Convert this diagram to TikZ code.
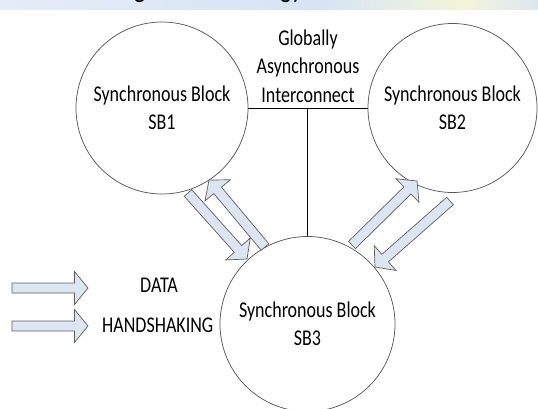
\documentclass[tikz,border=0pt]{standalone}
\usepackage{fontspec}
\setmainfont{Carlito}[FakeStretch=0.8]
\usetikzlibrary{calc}

\definecolor{ringgray}{HTML}{5A5A5A}
\definecolor{arrowfill}{HTML}{DCE6F2}
\definecolor{arrowline}{HTML}{5F5F5F}
\definecolor{bandA}{HTML}{E4ECF7}
\definecolor{bandB}{HTML}{D7E4F6}
\definecolor{bandC}{HTML}{F3F5D9}
\definecolor{bandD}{HTML}{DCE6F4}

\pgfdeclarehorizontalshading{titleband}{100bp}{%
  color(0bp)=(bandA); color(25bp)=(bandA); color(55bp)=(bandB);
  color(68bp)=(bandC); color(75bp)=(bandD); color(100bp)=(bandD)}

\def\shaftw{5pt}
\def\headw{16.5pt}
\def\headlen{13.5pt}

% outlined block arrow from coordinate #1 to coordinate #2; #3 names its helper point
\newcommand\blockarrow[3]{%
  \coordinate (#3-hb) at ($(#2)!\headlen!(#1)$);
  \draw[blockarrow]
    ($(#1)!\shaftw!90:(#2)$) -- ($(#3-hb)!\shaftw!90:(#2)$)
    -- ($(#3-hb)!\headw!90:(#2)$) -- (#2)
    -- ($(#3-hb)!\headw!-90:(#2)$) -- ($(#3-hb)!\shaftw!-90:(#2)$)
    -- ($(#1)!\shaftw!-90:(#2)$) -- cycle;
}

\tikzset{
  blocktext/.style={font=\fontsize{22.5}{28.5}\selectfont, text=black, align=center},
  sblock/.style={circle, draw=ringgray, line width=0.75pt, inner sep=0pt,
                 minimum size=#1, blocktext},
  blockarrow/.style={fill=arrowfill, draw=arrowline, line width=0.7pt, line join=miter},
  wire/.style={draw=black, line width=0.9pt},
  legendtext/.style={font=\fontsize{22.5}{28.5}\selectfont, text=black, anchor=base west, inner sep=0pt},
  titletext/.style={font=\fontsize{30}{36}\selectfont, text=black, anchor=base west, inner sep=0pt}
}

\begin{document}
\begin{tikzpicture}[x=1pt, y=-1pt]
  \useasboundingbox (0,0) rectangle (538,408);
  \fill[white] (0,0) rectangle (538,408);

  % slide title band along the top edge, title running off above
  \begin{scope}
    \clip (0,0) rectangle (538,9);
    \shade[shading=titleband] (0,0) rectangle (538,9);
    \node[titletext] (tg1) at (134,-3) {g};
    \node[titletext] (tg2) at (280,-3) {gy};
  \end{scope}

  % synchronous blocks
  \node[sblock=172pt] (sb1) at (162,108) {Synchronous Block\\SB1};
  \node[sblock=169pt] (sb2) at (452.5,108) {Synchronous Block\\SB2};
  \node[sblock=175pt] (sb3) at (307.5,324) {Synchronous Block\\SB3};

  % globally asynchronous interconnect
  \node[blocktext, inner sep=0pt] (gai) at (308,66) {Globally\\Asynchronous\\Interconnect};
  \draw[wire] (sb1.east) -- (sb2.west);
  \coordinate (tap) at (sb3.north |- sb1.east);
  \draw[wire] (tap) -- (sb3.north);

  % data and handshaking arrows between the blocks
  \coordinate (a1s) at (188,193);  \coordinate (a1e) at (247,259);
  \coordinate (a2s) at (265,247);  \coordinate (a2e) at (209,180);
  \coordinate (a3s) at (352,245);  \coordinate (a3e) at (417,181);
  \coordinate (a4s) at (450,201);  \coordinate (a4e) at (375,267);
  \blockarrow{a1s}{a1e}{a1}
  \blockarrow{a2s}{a2e}{a2}
  \blockarrow{a3s}{a3e}{a3}
  \blockarrow{a4s}{a4e}{a4}

  % legend
  \coordinate (l1s) at (12,288);  \coordinate (l1e) at (88,288);
  \coordinate (l2s) at (12,326);  \coordinate (l2e) at (88,326);
  \blockarrow{l1s}{l1e}{l1}
  \blockarrow{l2s}{l2e}{l2}
  \node[legendtext] (ldata) at (140,292) {DATA};
  \node[legendtext] (lhand) at (102,332) {HANDSHAKING};
\end{tikzpicture}
\end{document}
